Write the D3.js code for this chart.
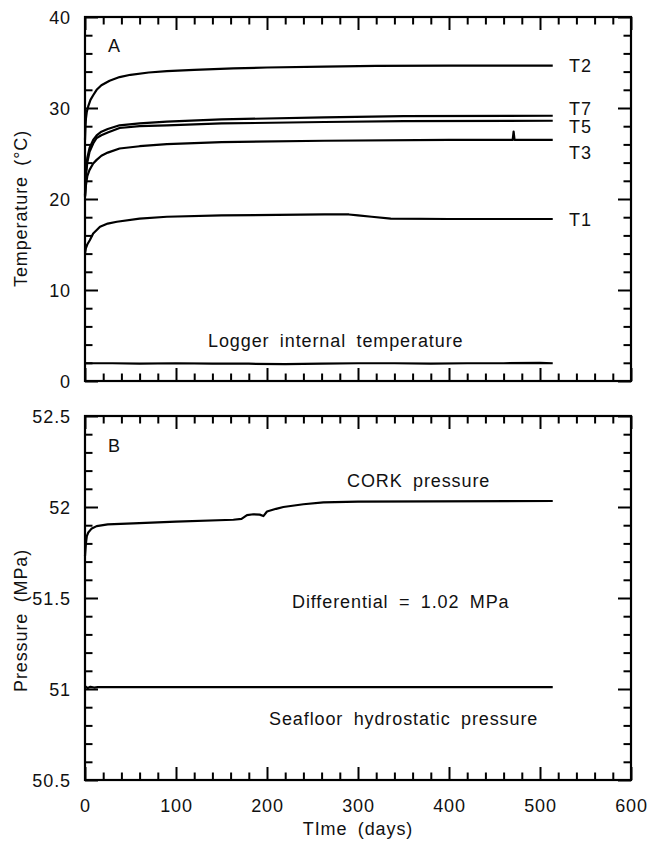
<!DOCTYPE html>
<html lang="en">
  <head>
    <meta charset="utf-8">
<style>
body { margin: 0; background: #fff; }
svg text {
    font-family: "Liberation Sans", Arial, sans-serif;
    font-size: 18px;
    letter-spacing: 0.9px;
    word-spacing: 4.5px;
    fill: #111;
}
.axis line { stroke: #000; stroke-width: 2; }
.axis path { display: none; }
.frame { fill: none; stroke: #000; stroke-width: 2.2; }
.curve { fill: none; stroke: #000; stroke-width: 2.2; stroke-linejoin: round; }
</style>
</head>
<body>
<script src="https://d3js.org/d3.v7.min.js"></script>
<script>
// temperature records, panel A: [day, °C]
var t2 = [[0,26.5],[0.5,27.8],[1,28.8],[2,29.6],[3.6,30.2],[6,30.9],[9,31.4],[12.8,32.0],[18,32.5],[27,33.0],[38,33.4],[50,33.65],[70,33.9],[90,34.05],[120,34.2],[163,34.35],[200,34.45],[263,34.55],[320,34.62],[400,34.65],[514,34.65]];
var t7 = [[0,20.4],[0.5,22.0],[1,23.0],[2.5,24.5],[5,25.6],[9,26.5],[12.8,27.0],[18,27.4],[25,27.7],[38,28.1],[60,28.3],[90,28.5],[150,28.75],[263,28.97],[350,29.1],[514,29.15]];
var t5 = [[0,20.3],[0.5,21.6],[1,22.5],[2.5,24.0],[5,25.2],[9,26.1],[12.8,26.7],[18,27.0],[25,27.3],[38,27.8],[60,28.0],[90,28.1],[150,28.3],[263,28.46],[350,28.55],[514,28.6]];
var t3 = [[0,20.2],[0.5,20.9],[1,21.5],[2.5,22.5],[5,23.2],[9,23.9],[12.8,24.3],[18,24.75],[25,25.1],[38,25.55],[60,25.8],[90,26.04],[150,26.25],[263,26.4],[400,26.5],[470,26.5],[471,27.4],[472,26.5],[514,26.5]];
var t1 = [[0,14.0],[1,14.6],[2.5,15.0],[5.4,15.5],[9,16.2],[16.5,16.95],[25,17.3],[35,17.5],[60,17.85],[90,18.05],[150,18.2],[263,18.3],[290,18.3],[300,18.2],[315,18.05],[336,17.85],[400,17.8],[514,17.8]];
var logger = [[0,1.95],[30,1.95],[60,1.9],[100,1.95],[140,1.9],[180,1.9],[220,1.85],[260,1.9],[300,1.95],[340,1.95],[380,1.9],[420,1.95],[460,1.95],[500,2.0],[514,1.95]];

// pressure records, panel B: [day, MPa]
var cork = [[0,51.73],[1,51.8],[2,51.84],[3.6,51.86],[7,51.88],[12.8,51.895],[25,51.905],[53,51.91],[100,51.92],[163,51.93],[172,51.935],[178,51.955],[185,51.96],[192,51.958],[196,51.95],[200,51.975],[210,51.99],[218,52.0],[240,52.015],[262,52.025],[300,52.03],[514,52.033]];
var seafloor = [[0,51.015],[3,51.005],[6,51.012],[10,51.008],[14,51.01],[514,51.01]];

var xTicks = [0, 100, 200, 300, 400, 500, 600];
var tempTicks = [0, 10, 20, 30, 40];
var presTicks = [50.5, 51, 51.5, 52, 52.5];

var tempLabels = [
  {name: "T2", y: 34.65, dy: 6.5},
  {name: "T7", y: 29.15, dy: -1},
  {name: "T5", y: 28.6, dy: 12},
  {name: "T3", y: 26.5, dy: 19},
  {name: "T1", y: 17.8, dy: 7}
];

var width = 648, height = 845,
    left = 85, right = 631;

var svg = d3.select("body").append("svg")
    .attr("width", width)
    .attr("height", height);

var x = d3.scaleLinear().domain([0, 600]).range([left, right]);
var yT = d3.scaleLinear().domain([0, 40]).range([381, 17]);
var yP = d3.scaleLinear().domain([50.5, 52.5]).range([780, 416]);

function drawPanel(y, ticks, minorStep, showX) {
  var top = y.range()[1], bottom = y.range()[0];
  var d0 = y.domain()[0], d1 = y.domain()[1];
  var minorY = d3.range(d0, d1 + 1e-9, minorStep).filter(function(v) {
    return !ticks.some(function(t) { return Math.abs(t - v) < 1e-6; });
  });
  var minorX = d3.range(0, 601, 20).filter(function(v) { return v % 100 !== 0; });

  function add(axis, tr) {
    svg.append("g").attr("class", "axis").attr("transform", tr).call(axis);
  }
  // major ticks (inward)
  add(d3.axisLeft(y).tickValues(ticks).tickSize(-13).tickPadding(14)
      .tickFormat(function(d) { return String(d); }), "translate(" + left + ",0)");
  add(d3.axisRight(y).tickValues(ticks).tickSize(-13).tickFormat(""), "translate(" + right + ",0)");
  add(d3.axisTop(x).tickValues(xTicks).tickSize(-13).tickFormat(""), "translate(0," + top + ")");
  add(d3.axisBottom(x).tickValues(xTicks).tickSize(-13).tickPadding(19)
      .tickFormat(showX ? function(d) { return String(d); } : ""), "translate(0," + bottom + ")");
  // minor ticks
  add(d3.axisLeft(y).tickValues(minorY).tickSize(-7.5).tickFormat(""), "translate(" + left + ",0)");
  add(d3.axisRight(y).tickValues(minorY).tickSize(-7.5).tickFormat(""), "translate(" + right + ",0)");
  add(d3.axisTop(x).tickValues(minorX).tickSize(-7.5).tickFormat(""), "translate(0," + top + ")");
  add(d3.axisBottom(x).tickValues(minorX).tickSize(-7.5).tickFormat(""), "translate(0," + bottom + ")");

  svg.append("rect").attr("class", "frame")
      .attr("x", left).attr("y", top)
      .attr("width", right - left).attr("height", bottom - top);
}

drawPanel(yT, tempTicks, 2, false);
drawPanel(yP, presTicks, 0.1, true);

svg.selectAll(".axis text")
    .attr("fill", "#111")
    .style("font-family", '"Liberation Sans", Arial, sans-serif')
    .style("font-size", "18px");
svg.selectAll(".axis text").filter(function() {
  return d3.select(this).attr("dy") === "0.32em";
}).attr("dy", "0.37em");

function curve(y) {
  return d3.line().x(function(d) { return x(d[0]); }).y(function(d) { return y(d[1]); });
}

[t2, t7, t5, t3, t1, logger].forEach(function(s) {
  svg.append("path").attr("class", "curve").attr("d", curve(yT)(s));
});
[cork, seafloor].forEach(function(s) {
  svg.append("path").attr("class", "curve").attr("d", curve(yP)(s));
});

// series labels
svg.selectAll(".tlabel").data(tempLabels).enter().append("text")
    .attr("class", "tlabel")
    .attr("x", 569)
    .attr("y", function(d) { return yT(d.y) + d.dy; })
    .text(function(d) { return d.name; });

svg.append("text").attr("x", 108).attr("y", 52).text("A");
svg.append("text").attr("x", 108).attr("y", 452).text("B");
svg.append("text").attr("x", 208).attr("y", 347).text("Logger internal temperature");
svg.append("text").attr("x", 347).attr("y", 487).text("CORK pressure");
svg.append("text").attr("x", 292).attr("y", 608).text("Differential = 1.02 MPa");
svg.append("text").attr("x", 269).attr("y", 725).text("Seafloor hydrostatic pressure");

// axis titles
svg.append("text")
    .attr("transform", "translate(27,287) rotate(-90)")
    .text("Temperature (°C)");
svg.append("text")
    .attr("transform", "translate(27,692) rotate(-90)")
    .text("Pressure (MPa)");
svg.append("text")
    .attr("x", (left + right) / 2).attr("y", 835)
    .attr("text-anchor", "middle")
    .text("TIme (days)");
</script>
</body>
</html>
